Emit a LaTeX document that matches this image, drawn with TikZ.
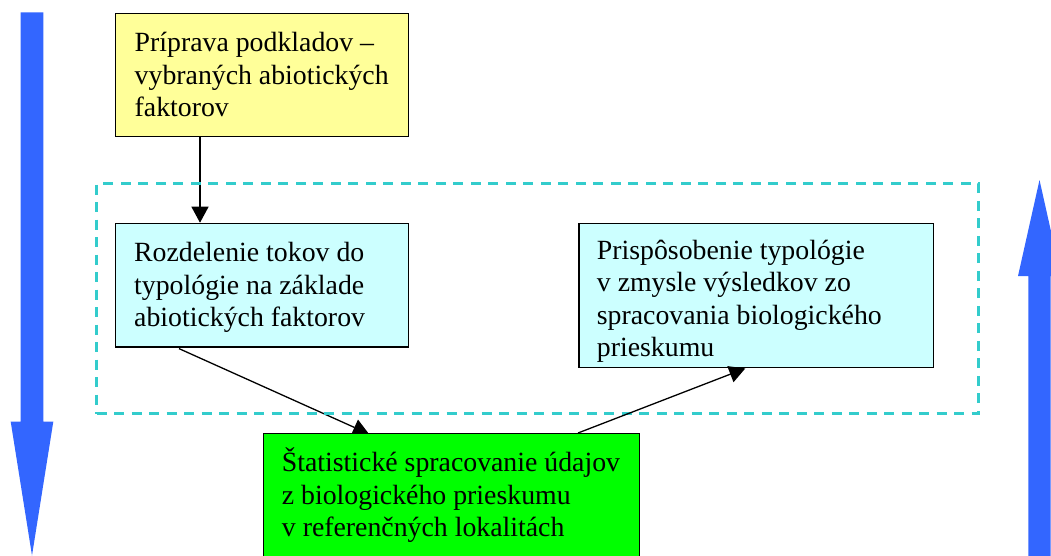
\documentclass[tikz,border=0pt]{standalone}
\usepackage{fontspec}
\setmainfont{Liberation Serif}
\usetikzlibrary{arrows.meta,calc}
\definecolor{boxyellow}{HTML}{FFFF99}
\definecolor{boxcyan}{HTML}{CCFFFF}
\definecolor{boxgreen}{HTML}{00FF00}
\definecolor{dashcol}{HTML}{33CCCC}
\definecolor{bigblue}{HTML}{3366FF}
\pgfdeclarelayer{back}
\pgfsetlayers{back,main}
\tikzset{
  box/.style={draw=black, line width=1.4pt, inner sep=0pt, anchor=north west},
  txt/.style={inner sep=0pt, anchor=base west, align=left, font=\fontsize{27.8}{32.5}\selectfont},
  conn/.style={draw=black, line width=1.3pt, -{Triangle[length=16pt,width=17pt]}},
  bigarrow/.style={fill=bigblue, draw=none},
  groupbox/.style={draw=dashcol, line width=3pt, dash pattern=on 10pt off 7.5pt}
}
\begin{document}
\begin{tikzpicture}[x=1pt,y=-1pt]
\useasboundingbox (0,0) rectangle (1051,555);
\clip (0,0) rectangle (1051,555);
% big blue arrows
\path[bigarrow] (20.7,12.3) -- (43.3,12.3) -- (43.3,421.7) -- (53.3,421.7) -- (32,555.5) -- (10.7,421.7) -- (20.7,421.7) -- cycle;
\path[bigarrow] (1028.3,560) -- (1028.3,276) -- (1018,276) -- (1039.5,180) -- (1061,276) -- (1050.7,276) -- (1050.7,560) -- cycle;
% dashed group
\node[groupbox, inner sep=0pt, anchor=north west, minimum width=882pt, minimum height=230pt] (grp) at (95,182) {};
% boxes
\node[box, fill=boxyellow, minimum width=293pt, minimum height=123pt] (prep) at (115,13) {};
\node[box, fill=boxcyan, minimum width=293pt, minimum height=123.5pt] (rozd) at (115,222.7) {};
\node[box, fill=boxcyan, minimum width=354.5pt, minimum height=144pt] (prisp) at (578.3,223) {};
\node[box, fill=boxgreen, minimum width=376pt, minimum height=140pt] (stat) at (263,433) {};
% texts (anchored at the baseline of the last line)
\node[txt] (prept) at (134.5,116.7) {Príprava podkladov –\\vybraných abiotických\\faktorov};
\node[txt] (rozdt) at (134,326.5) {Rozdelenie tokov do\\typológie na základe\\abiotických faktorov};
\node[txt] (prispt) at (596.7,356.7) {Prispôsobenie typológie\\v zmysle výsledkov zo\\spracovania biologického\\prieskumu};
\node[txt] (statt) at (281.7,536.7) {Štatistické spracovanie údajov\\z biologického prieskumu\\v referenčných lokalitách};
% connectors
\begin{pgfonlayer}{back}
\draw[conn] ($(prep.south west)+(85,0)$) -- ($(rozd.north west)+(85,0)$);
\draw[conn] ($(rozd.south west)+(64,1)$) -- ($(stat.north west)+(106,1)$);
\end{pgfonlayer}
\draw[conn] ($(stat.north west)+(315,0)$) -- ($(prisp.south west)+(167,0)$);
\end{tikzpicture}
\end{document}
